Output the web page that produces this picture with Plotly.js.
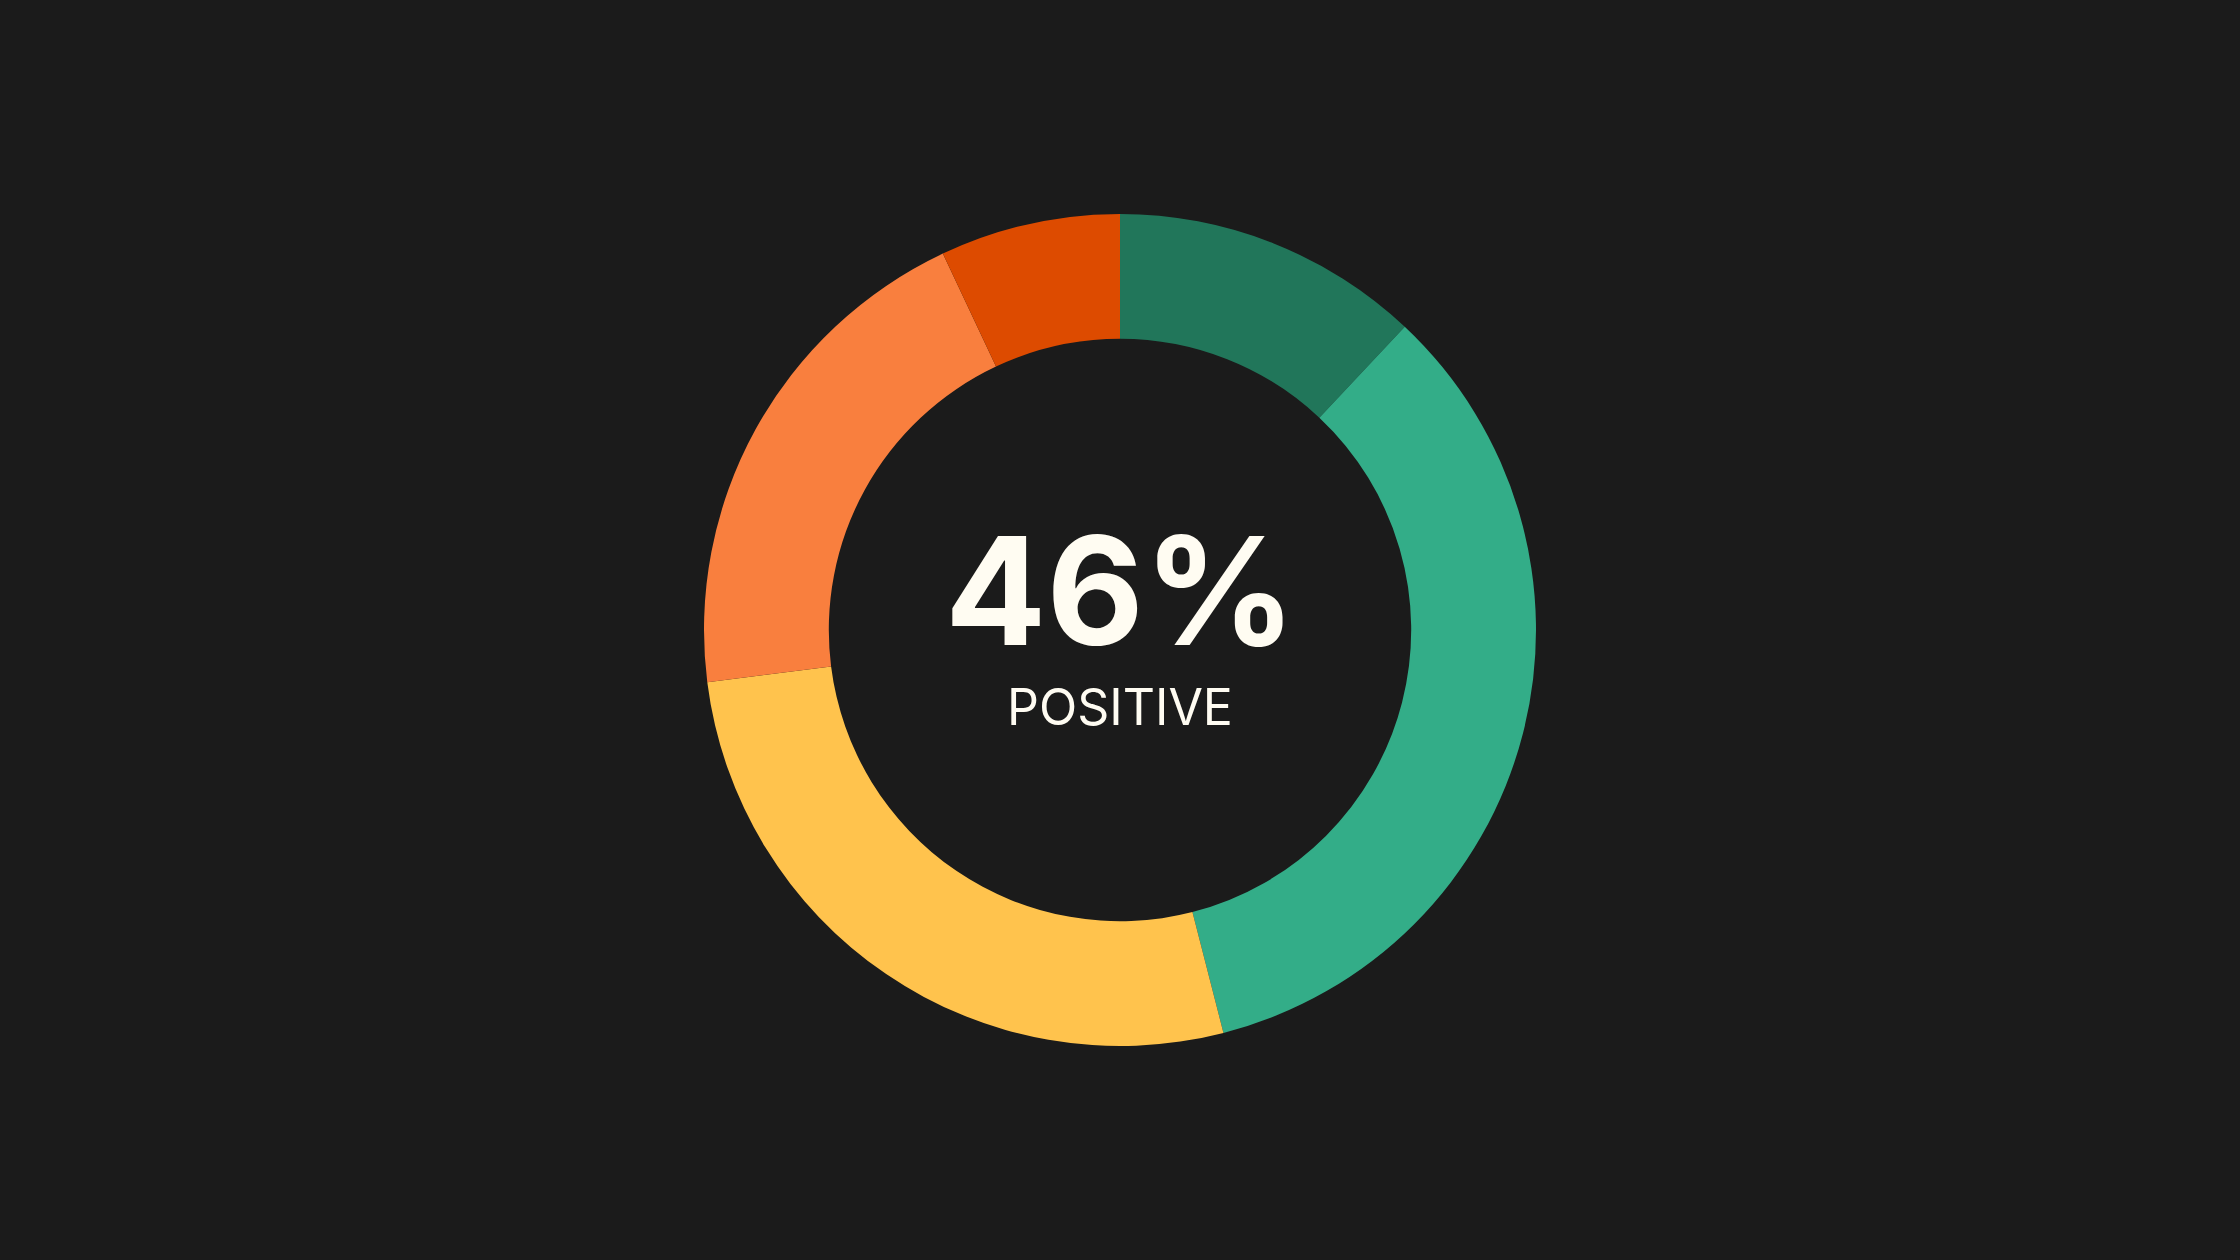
<!DOCTYPE html>
<html>
<head>
<meta charset="utf-8">
<script src="https://cdn.plot.ly/plotly-3.0.1.min.js"></script>
<style>
  html, body { margin: 0; padding: 0; background: #1b1b1b; }
  #chart { width: 2240px; height: 1260px; }
</style>
</head>
<body>
<div id="chart"></div>
<script>
// sentiment shares, clockwise from 12 o'clock
var labels = ['Very positive', 'Positive', 'Neutral', 'Negative', 'Very negative'];
var values = [12, 34, 27, 20, 7];
var colors = ['#21765a', '#33ad88', '#ffc34d', '#f97f3e', '#dd4b00'];
var centerValue = '46%';
var centerLabel = 'POSITIVE';

function drawChart() {
	var trace = {
		type: 'pie',
		labels: labels,
		values: values,
		hole: 0.7,
		sort: false,
		direction: 'clockwise',
		rotation: 0,
		textinfo: 'none',
		hoverinfo: 'label+percent',
		marker: {
			colors: colors,
			line: { width: 0 }
		}
	};

	var layout = {
		width: 2240,
		height: 1260,
		paper_bgcolor: '#1b1b1b',
		plot_bgcolor: '#1b1b1b',
		showlegend: false,
		margin: { t: 214, b: 214, l: 200, r: 200 },
		annotations: [{
			text: centerValue,
			x: 0.5, y: 0.548,
			xref: 'paper', yref: 'paper',
			xanchor: 'center', yanchor: 'middle',
			showarrow: false,
			font: { family: 'Inter', size: 150, weight: 700, color: '#fffcf2' }
		}, {
			text: centerLabel,
			x: 0.5, y: 0.408,
			xref: 'paper', yref: 'paper',
			xanchor: 'center', yanchor: 'middle',
			showarrow: false,
			font: { family: 'Inter', size: 50, weight: 400, color: '#fffcf2' }
		}]
	};

	Plotly.newPlot('chart', [trace], layout, { displayModeBar: false, staticPlot: true });
}

window.onload = drawChart;
</script>
</body>
</html>
